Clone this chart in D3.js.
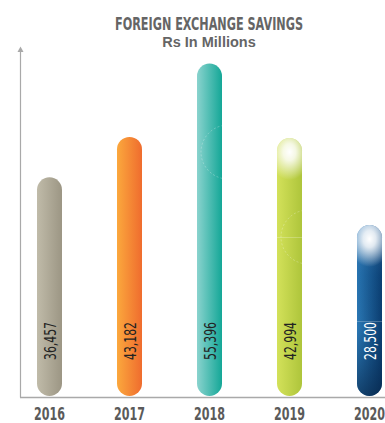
<!DOCTYPE html>
<html>
<head>
<meta charset="utf-8">
<script src="https://cdn.jsdelivr.net/npm/d3@7"></script>
<style>
  html, body { margin: 0; padding: 0; background: #fff; overflow: hidden; }
  svg { display: block; }
</style>
</head>
<body>
<svg id="chart" width="385" height="423"></svg>
<script>
// Foreign exchange savings, Rs in millions
const years = ["2016", "2017", "2018", "2019", "2020"];
const savings = [36457, 43182, 55396, 42994, 28500];

// Bar fills: left-to-right shading for each year
const palette = [
  ["#c0bba9", "#9c9684"],
  ["#fba83d", "#ef6c2e"],
  ["#8ad3ce", "#14a797"],
  ["#d3e15a", "#aec53b"],
  ["#2a78b5", "#0a3d70"]
];
const labelColors = ["#222", "#222", "#222", "#222", "#fff"];
const glowing = [false, false, false, true, true];

const narrow = "'Liberation Sans Narrow', 'DejaVu Sans Condensed', 'Roboto', sans-serif";

const svg = d3.select("#chart");
const W = 385, H = 423;
const base = 396;

const x = d3.scaleBand()
  .domain(years)
  .range([29, 390])
  .paddingInner(0.6875)
  .paddingOuter(0.1);

const y = d3.scaleLinear()
  .domain([0, 58000])
  .range([base, 48]);

const defs = svg.append("defs");

palette.forEach((c, i) => {
  const g = defs.append("linearGradient")
    .attr("id", "bar" + i)
    .attr("x1", 0).attr("x2", 1).attr("y1", 0).attr("y2", 0);
  g.append("stop").attr("offset", "0%").attr("stop-color", c[0]);
  g.append("stop").attr("offset", "100%").attr("stop-color", c[1]);
});

// vertical depth for the blue bar
const v = defs.append("linearGradient")
  .attr("id", "blueDepth")
  .attr("x1", 0).attr("x2", 0).attr("y1", 0).attr("y2", 1);
v.append("stop").attr("offset", "0%").attr("stop-color", "#9fc3e8").attr("stop-opacity", 0.5);
v.append("stop").attr("offset", "30%").attr("stop-color", "#0d4f8c").attr("stop-opacity", 0.1);
v.append("stop").attr("offset", "60%").attr("stop-color", "#0a2c55").attr("stop-opacity", 0);
v.append("stop").attr("offset", "100%").attr("stop-color", "#06203f").attr("stop-opacity", 0.6);

// soft highlight at the top of a bar
const glow = defs.append("radialGradient")
  .attr("id", "glow")
  .attr("cx", 0.5).attr("cy", 0.5).attr("r", 0.5);
glow.append("stop").attr("offset", "0%").attr("stop-color", "#ffffff").attr("stop-opacity", 1);
glow.append("stop").attr("offset", "30%").attr("stop-color", "#ffffff").attr("stop-opacity", 0.85);
glow.append("stop").attr("offset", "100%").attr("stop-color", "#ffffff").attr("stop-opacity", 0);

// Titles
svg.append("text")
  .attr("x", 209).attr("y", 30)
  .attr("text-anchor", "middle")
  .attr("font-family", narrow)
  .attr("font-weight", "bold")
  .attr("font-size", 18)
  .attr("textLength", 188)
  .attr("lengthAdjust", "spacingAndGlyphs")
  .attr("fill", "#656565")
  .text("FOREIGN EXCHANGE SAVINGS");

svg.append("text")
  .attr("x", 209).attr("y", 47)
  .attr("text-anchor", "middle")
  .attr("font-family", "'Liberation Sans', Arial, sans-serif")
  .attr("font-weight", "bold")
  .attr("font-size", 14.5)
  .attr("fill", "#656565")
  .text("Rs In Millions");

// Axes
const axisColor = "#a9a9a9";
svg.append("line")
  .attr("x1", 20.5).attr("x2", 20.5)
  .attr("y1", 50).attr("y2", base + 1.5)
  .attr("stroke", axisColor).attr("stroke-width", 1.2);
svg.append("path")
  .attr("d", `M17.5,52 L20.5,46.5 L23.5,52 Z`)
  .attr("fill", axisColor);
svg.append("line")
  .attr("x1", 20).attr("x2", W)
  .attr("y1", base + 1.5).attr("y2", base + 1.5)
  .attr("stroke", axisColor).attr("stroke-width", 1.6);

// Bars
const bw = x.bandwidth();
const bars = svg.append("g").selectAll("g")
  .data(years.map((yr, i) => ({ yr, val: savings[i], i })))
  .join("g");

bars.append("rect")
  .attr("x", d => x(d.yr))
  .attr("y", d => y(d.val))
  .attr("width", bw)
  .attr("height", d => y(0) - y(d.val))
  .attr("rx", bw / 2)
  .attr("fill", d => `url(#bar${d.i})`);

bars.filter(d => d.i === 4).append("rect")
  .attr("x", d => x(d.yr))
  .attr("y", d => y(d.val))
  .attr("width", bw)
  .attr("height", d => y(0) - y(d.val))
  .attr("rx", bw / 2)
  .attr("fill", "url(#blueDepth)");

// clip paths matching each bar's outline
bars.each(function(d) {
  defs.append("clipPath").attr("id", "clip" + d.i)
    .append("rect")
    .attr("x", x(d.yr)).attr("y", y(d.val))
    .attr("width", bw).attr("height", y(0) - y(d.val))
    .attr("rx", bw / 2);
});

// faint decorative arcs on the taller bars
bars.filter(d => d.i === 2 || d.i === 3).append("circle")
  .attr("clip-path", d => `url(#clip${d.i})`)
  .attr("cx", d => x(d.yr) + bw + 6)
  .attr("cy", d => d.i === 2 ? 152 : 237)
  .attr("r", 27)
  .attr("fill", "none")
  .attr("stroke", "#ffffff").attr("stroke-opacity", 0.35)
  .attr("stroke-width", 0.8).attr("stroke-dasharray", "2,2");

// thin light rule across the glossy bars
bars.filter(d => d.i === 3 || d.i === 4).append("line")
  .attr("clip-path", d => `url(#clip${d.i})`)
  .attr("x1", d => x(d.yr)).attr("x2", d => x(d.yr) + bw)
  .attr("y1", d => d.i === 3 ? 237.5 : 321.5)
  .attr("y2", d => d.i === 3 ? 237.5 : 321.5)
  .attr("stroke", "#ffffff").attr("stroke-opacity", 0.3).attr("stroke-width", 0.8);

// highlights
bars.filter(d => glowing[d.i]).append("ellipse")
  .attr("clip-path", d => `url(#clip${d.i})`)
  .attr("cx", d => x(d.yr) + bw / 2)
  .attr("cy", d => y(d.val) + 14)
  .attr("rx", bw * 0.85)
  .attr("ry", 28)
  .attr("fill", "url(#glow)");

// Value labels, rotated inside each bar
bars.append("text")
  .attr("transform", d => `translate(${x(d.yr) + bw / 2 + 0.5},360) rotate(-90)`)
  .attr("text-anchor", "start")
  .attr("dominant-baseline", "central")
  .attr("font-family", narrow)
  .attr("font-size", 16)
  .attr("textLength", 38)
  .attr("lengthAdjust", "spacingAndGlyphs")
  .attr("fill", d => labelColors[d.i])
  .text(d => d3.format(",")(d.val));

// Year labels along the baseline
const xAxis = svg.append("g")
  .attr("transform", `translate(0,${base + 1.5})`)
  .call(d3.axisBottom(x).tickSize(0).tickPadding(10));
xAxis.select(".domain").remove();
xAxis.selectAll("text")
  .attr("font-family", narrow)
  .attr("font-weight", "bold")
  .attr("font-size", 18)
  .attr("textLength", 31)
  .attr("lengthAdjust", "spacingAndGlyphs")
  .attr("fill", "#5a5a5a");
</script>
</body>
</html>
